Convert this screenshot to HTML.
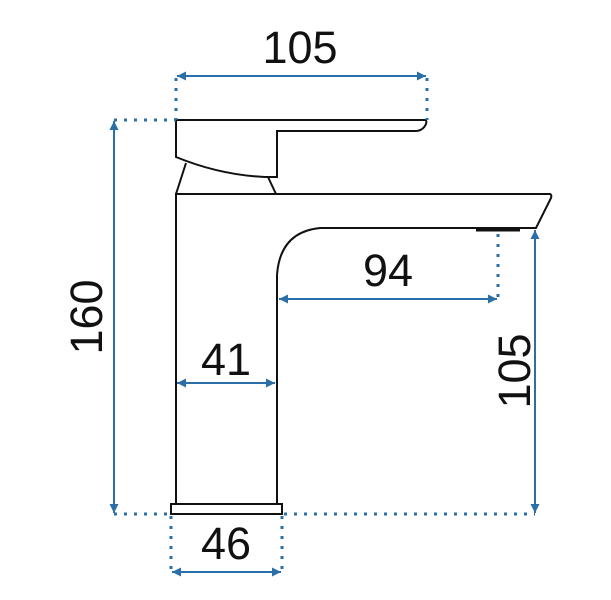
<!DOCTYPE html>
<html><head><style>
html,body{margin:0;padding:0;background:#fff;}
svg{display:block}
text{font-family:"Liberation Sans",sans-serif;font-size:45px;fill:#111;}
</style></head><body>
<svg width="611" height="600" viewBox="0 0 611 600">
<defs>
<marker id="a" viewBox="0 0 10 10" refX="10" refY="5" markerWidth="17" markerHeight="9" markerUnits="userSpaceOnUse" orient="auto-start-reverse"><path d="M0,0 L10,5 L0,10 z" fill="#2a6fa8"/></marker>
</defs>
<g fill="none" stroke="#111" stroke-width="2">
<path d="M176,120 L425,120 Q427,120 426,124 Q423,131 415,131 L277,131 L277,177 L265,177 Q220,175 176,157 Z"/>
<path d="M186,163 L176,194 M268,177 L276,194"/>
<path d="M176,504 L176,194 L550,194 Q552,195 551,198 L536,228 L320,228 Q280,232 277,275 L277,504"/>
<rect x="171" y="504" width="111" height="10"/>
</g>
<line x1="476" y1="230" x2="520" y2="230" stroke="#111" stroke-width="3"/>
<g stroke="#2a6fa8" stroke-width="2" fill="none">
<line x1="177" y1="76" x2="426" y2="76" marker-start="url(#a)" marker-end="url(#a)"/>
<line x1="114" y1="121" x2="114" y2="513" marker-start="url(#a)" marker-end="url(#a)"/>
<line x1="535" y1="230" x2="535" y2="513" marker-start="url(#a)" marker-end="url(#a)"/>
<line x1="279" y1="299" x2="497" y2="299" marker-start="url(#a)" marker-end="url(#a)"/>
<line x1="177" y1="383" x2="275" y2="383" marker-start="url(#a)" marker-end="url(#a)"/>
<line x1="172" y1="572" x2="281" y2="572" marker-start="url(#a)" marker-end="url(#a)"/>
</g>
<g stroke="#2a6fa8" stroke-width="3" fill="none" stroke-dasharray="3,7">
<line x1="176" y1="78" x2="176" y2="120"/>
<line x1="427" y1="78" x2="427" y2="120"/>
<line x1="114" y1="120" x2="176" y2="120"/>
<line x1="114" y1="514" x2="171" y2="514"/>
<line x1="284" y1="514" x2="535" y2="514"/>
<line x1="498" y1="234" x2="498" y2="298"/>
<line x1="171" y1="516" x2="171" y2="572"/>
<line x1="282" y1="516" x2="282" y2="572"/>
</g>
<text x="300" y="63" text-anchor="middle">105</text>
<text x="388" y="286" text-anchor="middle">94</text>
<text x="226" y="375" text-anchor="middle">41</text>
<text x="226" y="559" text-anchor="middle">46</text>
<text transform="translate(102,317) rotate(-90)" text-anchor="middle">160</text>
<text transform="translate(530,371) rotate(-90)" text-anchor="middle">105</text>
</svg>
</body></html>
